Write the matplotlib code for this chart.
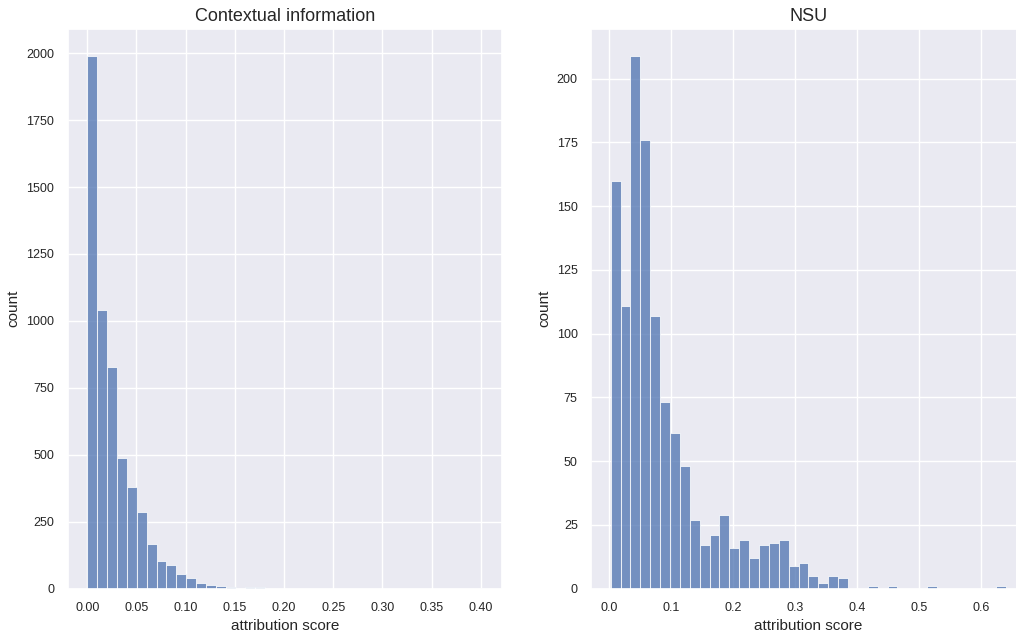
"""Attribution score histograms for contextual information vs. NSU tokens."""

import matplotlib

matplotlib.use("Agg")
import matplotlib.pyplot as plt
import numpy as np
import seaborn as sns

# Binned counts (40 equal-width bins per panel)
ctx_range = (0.0, 0.402)
ctx_counts = [1991, 1041, 828, 487, 380, 285, 168, 103, 88, 53,
              39, 22, 13, 9, 6, 1, 5, 5, 2, 0,
              0, 0, 0, 0, 0, 0, 0, 0, 0, 0,
              0, 0, 0, 0, 0, 0, 0, 0, 0, 1]

nsu_range = (0.002, 0.641)
nsu_counts = [160, 111, 209, 176, 107, 73, 61, 48, 27, 17,
              21, 29, 16, 19, 12, 17, 18, 19, 9, 10,
              5, 2, 5, 4, 0, 0, 1, 0, 1, 0,
              0, 0, 1, 0, 0, 0, 0, 0, 0, 1]

titles = ["Contextual information", "NSU"]

sns.set_theme(style="darkgrid")
plt.rcParams["font.family"] = ["Liberation Sans", "DejaVu Sans"]

fig = plt.figure(figsize=(10.16, 6.39), dpi=100)
ax_ctx = fig.add_axes([0.0665, 0.079, 0.4280, 0.8756])
ax_nsu = fig.add_axes([0.5816, 0.079, 0.4282, 0.8756])

for ax, (lo, hi), counts, title in [
    (ax_ctx, ctx_range, ctx_counts, titles[0]),
    (ax_nsu, nsu_range, nsu_counts, titles[1]),
]:
    edges = np.linspace(lo, hi, len(counts) + 1)
    # histogram-style bars: one per bin, edge-aligned, white outlines
    ax.bar(edges[:-1], counts, width=np.diff(edges), align="edge",
           color="#4c72b0", alpha=0.75, edgecolor="white", linewidth=0.75)
    ax.set_ylim(0, max(counts) * 1.05)
    ax.set_title(title, fontsize=13)
    ax.set_xlabel("attribution score", fontsize=11)
    ax.set_ylabel("count", fontsize=11)
    ax.tick_params(labelsize=9)

fig.savefig("out.png", dpi=100)
